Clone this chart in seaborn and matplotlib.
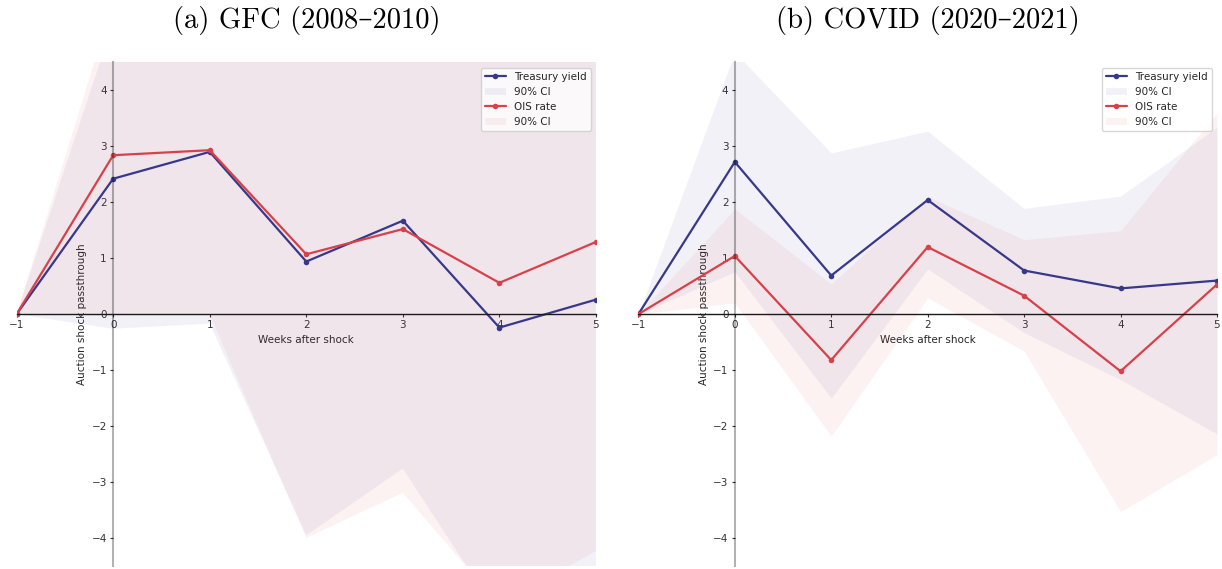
import matplotlib
matplotlib.use("Agg")
import matplotlib.pyplot as plt
import seaborn as sns
from matplotlib.patches import Patch
from matplotlib.lines import Line2D

# ---------------- data ----------------
weeks = [-1, 0, 1, 2, 3, 4, 5]

gfc_treasury = [0, 2.42, 2.90, 0.94, 1.67, -0.24, 0.26]
gfc_treasury_lo = [0, -0.26, -0.17, -3.95, -2.76, -5.40, -5.50]
gfc_treasury_hi = [0, 5.21, 5.97, 5.83, 6.10, 4.92, 6.02]
gfc_ois = [0, 2.84, 2.93, 1.07, 1.52, 0.56, 1.29]
gfc_ois_lo = [0, -0.02, 0.00, -4.00, -3.19, -5.20, -4.23]
gfc_ois_hi = [0, 5.59, 5.86, 6.14, 6.23, 6.32, 6.81]

covid_treasury = [0, 2.72, 0.69, 2.04, 0.78, 0.46, 0.60]
covid_treasury_lo = [0, 0.76, -1.50, 0.81, -0.33, -1.17, -2.14]
covid_treasury_hi = [0, 4.68, 2.88, 3.27, 1.89, 2.11, 3.34]
covid_ois = [0, 1.04, -0.82, 1.20, 0.33, -1.02, 0.53]
covid_ois_lo = [0, 0.20, -2.18, 0.29, -0.66, -3.53, -2.51]
covid_ois_hi = [0, 1.88, 0.54, 2.10, 1.33, 1.49, 3.60]

titles = ["(a) GFC (2008\u20132010)", "(b) COVID (2020\u20132021)"]
series_names = ["Treasury yield", "OIS rate"]
ci_name = "90% CI"
xlabel = "Weeks after shock"
ylabel = "Auction shock passthrough"
xticks = [-1, 0, 1, 2, 3, 4, 5]
yticks = [-4, -3, -2, -1, 0, 1, 2, 3, 4]

navy = "#38388a"
red = "#d8414a"
ci_alpha = 0.065

# ---------------- figure ----------------
sns.set_theme(style="ticks")
plt.rcParams["font.family"] = ["DejaVu Sans"]

fig = plt.figure(figsize=(12.22, 5.69), dpi=100)
ax_a = fig.add_axes([0.01358, 0.00527, 0.4741, 0.8852])
ax_b = fig.add_axes([0.5224, 0.00527, 0.4735, 0.8852])

panels = [
    (ax_a, gfc_treasury, gfc_treasury_lo, gfc_treasury_hi, gfc_ois, gfc_ois_lo, gfc_ois_hi),
    (ax_b, covid_treasury, covid_treasury_lo, covid_treasury_hi, covid_ois, covid_ois_lo, covid_ois_hi),
]

for (ax, t, tlo, thi, o, olo, ohi), title in zip(panels, titles):
    ax.fill_between(weeks, tlo, thi, color=navy, alpha=ci_alpha, linewidth=0)
    ax.fill_between(weeks, olo, ohi, color=red, alpha=ci_alpha, linewidth=0)
    sns.lineplot(x=weeks, y=t, ax=ax, color=navy, marker="o", markersize=4,
                 markeredgewidth=0, linewidth=1.6)
    sns.lineplot(x=weeks, y=o, ax=ax, color=red, marker="o", markersize=4,
                 markeredgewidth=0, linewidth=1.6)

    ax.set_xlim(-1, 5)
    ax.set_ylim(-4.5, 4.5)
    ax.set_xticks(xticks)
    ax.set_yticks(yticks)

    for s in ["top", "right"]:
        ax.spines[s].set_visible(False)
    ax.spines["left"].set_position(("data", 0))
    ax.spines["bottom"].set_position(("data", 0))
    ax.spines["bottom"].set_color("#1a1a1a")
    ax.spines["bottom"].set_linewidth(1.0)
    ax.spines["left"].set_color("black")
    ax.spines["left"].set_alpha(0.3)
    ax.spines["left"].set_linewidth(1.5)

    ax.tick_params(axis="both", labelsize=7.5, length=2.5, width=0.8,
                   colors="#333333", pad=2)

    ax.set_xlabel(xlabel, fontsize=7.5, color="#262626", labelpad=3)
    ax.set_ylabel(ylabel, fontsize=7.5, color="#262626", labelpad=3)

    ax.set_title(title, fontsize=20.6, family=["cmr10", "DejaVu Serif"], pad=25,
                 color="black")

    handles = [
        Line2D([], [], color=navy, marker="o", markersize=4, markeredgewidth=0, linewidth=1.6),
        Patch(facecolor=navy, alpha=ci_alpha, linewidth=0),
        Line2D([], [], color=red, marker="o", markersize=4, markeredgewidth=0, linewidth=1.6),
        Patch(facecolor=red, alpha=ci_alpha, linewidth=0),
    ]
    labels = [series_names[0], ci_name, series_names[1], ci_name]
    ax.legend(handles, labels, loc="upper right", fontsize=7.5, frameon=True,
              fancybox=True, framealpha=0.8, edgecolor="#cccccc")

fig.savefig("out.png", dpi=100)
